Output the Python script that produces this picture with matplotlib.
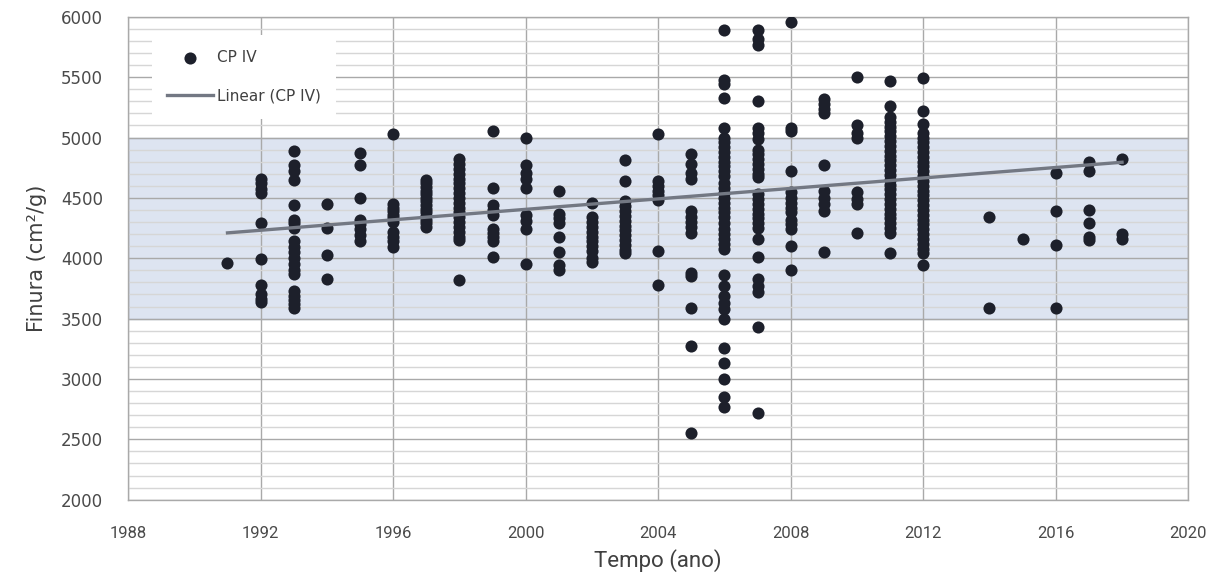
"""Finura do cimento CP IV ao longo do tempo, com faixa 3500-5000 e tendência linear."""
import numpy as np
import matplotlib
matplotlib.use("Agg")
import matplotlib.pyplot as plt
from matplotlib.ticker import MultipleLocator

# valores (cm²/g), um grupo por ano
y1991 = [3960]
y1992 = [4660, 4620, 4570, 4540, 4290, 3990, 3780, 3700, 3660, 3640]
y1993 = [4890, 4770, 4720, 4650, 4440, 4320, 4290, 4250, 4140, 4090, 4050,
         4000, 3950, 3900, 3870, 3730, 3690, 3650, 3620, 3590]
y1994 = [4450, 4250, 4030, 3830]
y1995 = [4870, 4770, 4500, 4320, 4280, 4240, 4190, 4140]
y1996 = [5030, 4450, 4420, 4390, 4360, 4330, 4300, 4220, 4180, 4140, 4090]
y1997 = [4650, 4620, 4590, 4560, 4530, 4500, 4470, 4440, 4410, 4380, 4350,
         4320, 4290, 4260]
y1998 = [4820, 4780, 4740, 4700, 4660, 4620, 4580, 4540, 4500, 4460, 4420,
         4380, 4340, 4300, 4260, 4220, 4180, 4150, 3820]
y1999 = [5050, 4580, 4440, 4400, 4360, 4240, 4210, 4180, 4140, 4010]
y2000 = [5000, 4770, 4710, 4660, 4580, 4360, 4310, 4240, 3950]
y2001 = [4560, 4370, 4330, 4290, 4180, 4050, 3940, 3900]
y2002 = [4460, 4340, 4300, 4260, 4220, 4180, 4140, 4100, 4060, 4000, 3970]
y2003 = [4810, 4640, 4470, 4430, 4390, 4350, 4310, 4270, 4230, 4190, 4150,
         4110, 4070, 4040]
y2004 = [5030, 4640, 4600, 4560, 4520, 4480, 4060, 3780]
y2005 = [4860, 4780, 4710, 4660, 4390, 4340, 4300, 4260, 4210, 3880, 3850,
         3590, 3270, 2550]
y2006 = [5890, 5480, 5440, 5330, 5080, 5000, 4960, 4920, 4880, 4840, 4800,
         4760, 4720, 4680, 4620, 4580, 4540, 4500, 4460, 4420, 4380, 4340,
         4290, 4240, 4200, 4160, 4120, 4080, 3860, 3770, 3690, 3630, 3580,
         3500, 3260, 3130, 3000, 2850, 2770]
y2007 = [5890, 5820, 5770, 5300, 5080, 5040, 4990, 4900, 4860, 4820, 4780,
         4740, 4700, 4670, 4530, 4490, 4450, 4410, 4370, 4330, 4290, 4250,
         4160, 4010, 3830, 3770, 3720, 3430, 2720]
y2008 = [5960, 5080, 5050, 4720, 4550, 4500, 4460, 4420, 4380, 4320, 4280,
         4240, 4100, 3900]
y2009 = [5320, 5280, 5240, 5200, 4770, 4560, 4500, 4450, 4390, 4050]
y2010 = [5500, 5100, 5040, 5000, 4550, 4490, 4450, 4210]
y2011 = [5470, 5260, 5170, 5130, 5090, 5050, 5010, 4970, 4930, 4890, 4850,
         4810, 4770, 4730, 4690, 4650, 4610, 4570, 4530, 4490, 4450, 4410,
         4370, 4330, 4290, 4250, 4210, 4040]
y2012 = [5490, 5220, 5110, 5040, 5000, 4960, 4920, 4880, 4840, 4800, 4760,
         4720, 4680, 4640, 4600, 4560, 4520, 4480, 4440, 4400, 4360, 4320,
         4280, 4240, 4200, 4160, 4120, 4080, 4040, 3940]
y2014 = [4340, 3590]
y2015 = [4160]
y2016 = [4710, 4390, 4110, 3590]
y2017 = [4800, 4720, 4400, 4290, 4180, 4150]
y2018 = [4820, 4200, 4160]

groups = [
    (1991, y1991), (1992, y1992), (1993, y1993), (1994, y1994), (1995, y1995),
    (1996, y1996), (1997, y1997), (1998, y1998), (1999, y1999), (2000, y2000),
    (2001, y2001), (2002, y2002), (2003, y2003), (2004, y2004), (2005, y2005),
    (2006, y2006), (2007, y2007), (2008, y2008), (2009, y2009), (2010, y2010),
    (2011, y2011), (2012, y2012), (2014, y2014), (2015, y2015), (2016, y2016),
    (2017, y2017), (2018, y2018),
]

# extremos da linha de tendência
trend_x = [1991, 2018]
trend_y = [4210, 4795]

# faixa sombreada
band_lo, band_hi = 3500, 5000

xs = np.concatenate([[yr] * len(v) for yr, v in groups])
ys = np.concatenate([v for _, v in groups])

fig = plt.figure(figsize=(12.2, 5.79), dpi=100)
ax = fig.add_axes([0.105, 0.137, 0.869, 0.834])

ax.axhspan(band_lo, band_hi, facecolor="#dde4f1", edgecolor="#b9c3d6",
           linewidth=1, zorder=0.2)

ax.scatter(xs, ys, s=76, color="#1d202b", zorder=3, label="CP IV",
           linewidths=0)
ax.plot(trend_x, trend_y, color="#737883", lw=2.4, zorder=4,
        label="Linear (CP IV)")

ax.set_xlim(1988, 2020)
ax.set_ylim(2000, 6000)
ax.xaxis.set_major_locator(MultipleLocator(4))
ax.yaxis.set_major_locator(MultipleLocator(500))
ax.yaxis.set_minor_locator(MultipleLocator(100))

ax.set_axisbelow(True)
ax.grid(which="minor", axis="y", color="#d6d6d6", lw=1.0)
ax.grid(which="major", axis="y", color="#a9a9a9", lw=1.0)
ax.grid(which="major", axis="x", color="#a9a9a9", lw=1.0)

for sp in ax.spines.values():
    sp.set_color("#a9a9a9")
    sp.set_linewidth(1)

cond = ["Roboto", "DejaVu Sans"]
ax.tick_params(which="both", length=0)
ax.tick_params(axis="y", labelsize=12, labelcolor="#4a4a4a", pad=18)
ax.tick_params(axis="x", labelsize=12, labelcolor="#4a4a4a", pad=19)
for lab in ax.get_xticklabels():
    lab.set_family(cond)
for lab in ax.get_yticklabels():
    lab.set_family("DejaVu Sans")

ax.set_xlabel("Tempo (ano)", fontsize=16, color="#404040", labelpad=6,
              family=cond)
ax.set_ylabel("Finura (cm²/g)", fontsize=15, color="#404040", labelpad=10)

leg = ax.legend(loc="upper left", bbox_to_anchor=(0.015, 0.978),
                frameon=True, fancybox=False, framealpha=1,
                facecolor="white", edgecolor="none", fontsize=11,
                handlelength=3.0, labelspacing=1.5, borderpad=1.0,
                handletextpad=0.3)
for t in leg.get_texts():
    t.set_color("#404040")

fig.savefig("out.png", dpi=100)
